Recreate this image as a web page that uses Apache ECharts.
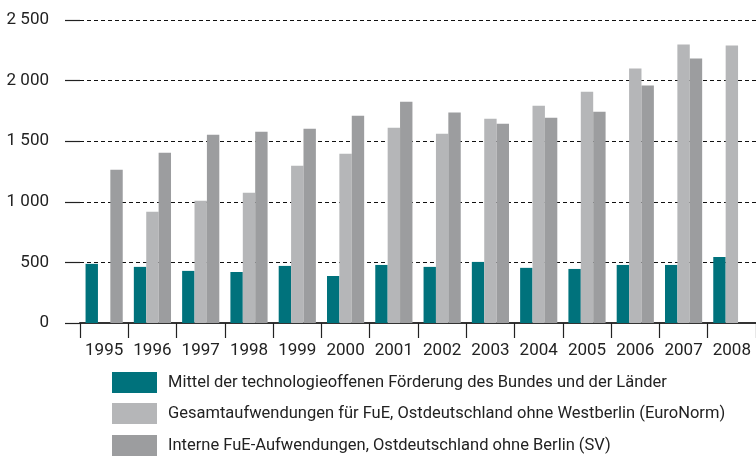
<!DOCTYPE html>
<html>
<head>
<meta charset="utf-8">
<script src="https://cdn.jsdelivr.net/npm/echarts@6/dist/echarts.min.js"></script>
<style>
    html, body { margin: 0; padding: 0; background: #fff; }
    #chart { width: 756px; height: 456px; }
</style>
</head>
<body>
<div id="chart"></div>
<script>
const years = ['1995', '1996', '1997', '1998', '1999', '2000', '2001', '2002', '2003', '2004', '2005', '2006', '2007', '2008']
const foerderung = [488, 463, 430, 421, 471, 388, 479, 463, 504, 455, 446, 479, 479, 545]
const euroNorm = [null, 917, 1008, 1074, 1298, 1397, 1612, 1562, 1686, 1793, 1909, 2099, 2298, 2289]
const internSV = [1264, 1405, 1554, 1579, 1603, 1711, 1826, 1736, 1645, 1694, 1744, 1959, 2182, null]
const yTickLabels = ['0', '500', '1 000', '1 500', '2 000', '2 500']
const seriesNames = [
    'Mittel der technologieoffenen Förderung des Bundes und der Länder',
    'Gesamtaufwendungen für FuE, Ostdeutschland ohne Westberlin (EuroNorm)',
    'Interne FuE-Aufwendungen, Ostdeutschland ohne Berlin (SV)'
]

const font = 'Roboto'
let chart = echarts.init(document.getElementById('chart'))

function barSeries(name, data, color) {
    return {
        name: name,
        type: 'bar',
        data: data,
        barGap: 0,
        barCategoryGap: '23%',
        itemStyle: { color: color },
        emphasis: { disabled: true }
    }
}

// one legend per row so nothing wraps into a second column
function legendRow(name, top) {
    return {
        orient: 'vertical',
        left: 112,
        top: top,
        padding: 0,
        itemWidth: 45,
        itemHeight: 21,
        icon: 'rect',
        selectedMode: false,
        textStyle: { fontFamily: font, fontSize: 16.5, color: '#222', padding: [0, 0, 0, 6] },
        data: [name]
    }
}

let option = {
    animation: false,
    textStyle: { fontFamily: font },
    grid: { left: 80, top: 20, width: 681, height: 303 },
    legend: [
        legendRow(seriesNames[0], 372),
        legendRow(seriesNames[1], 403),
        legendRow(seriesNames[2], 435)
    ],
    xAxis: {
        type: 'category',
        data: years,
        axisLine: { show: true, lineStyle: { color: '#333', width: 2 } },
        axisTick: { show: true, interval: 0, length: 15, lineStyle: { color: '#222', width: 1.2 } },
        axisLabel: { interval: 0, fontFamily: font, fontSize: 17, color: '#222', margin: 19 }
    },
    yAxis: {
        type: 'value',
        min: 0,
        max: 2500,
        interval: 500,
        axisLine: { show: false },
        axisTick: { show: true, length: 15, lineStyle: { color: '#222', width: 1.2 } },
        axisLabel: {
            fontFamily: font, fontSize: 17, color: '#222', margin: 31,
            formatter: v => yTickLabels[Math.round(v / 500)]
        },
        splitLine: { lineStyle: { color: '#111', type: [4, 3], width: 1 } }
    },
    series: [
        barSeries(seriesNames[0], foerderung, '#00727c'),
        barSeries(seriesNames[1], euroNorm, '#b5b6b8'),
        barSeries(seriesNames[2], internSV, '#9c9d9f')
    ]
}

chart.setOption(option)
</script>
</body>
</html>
